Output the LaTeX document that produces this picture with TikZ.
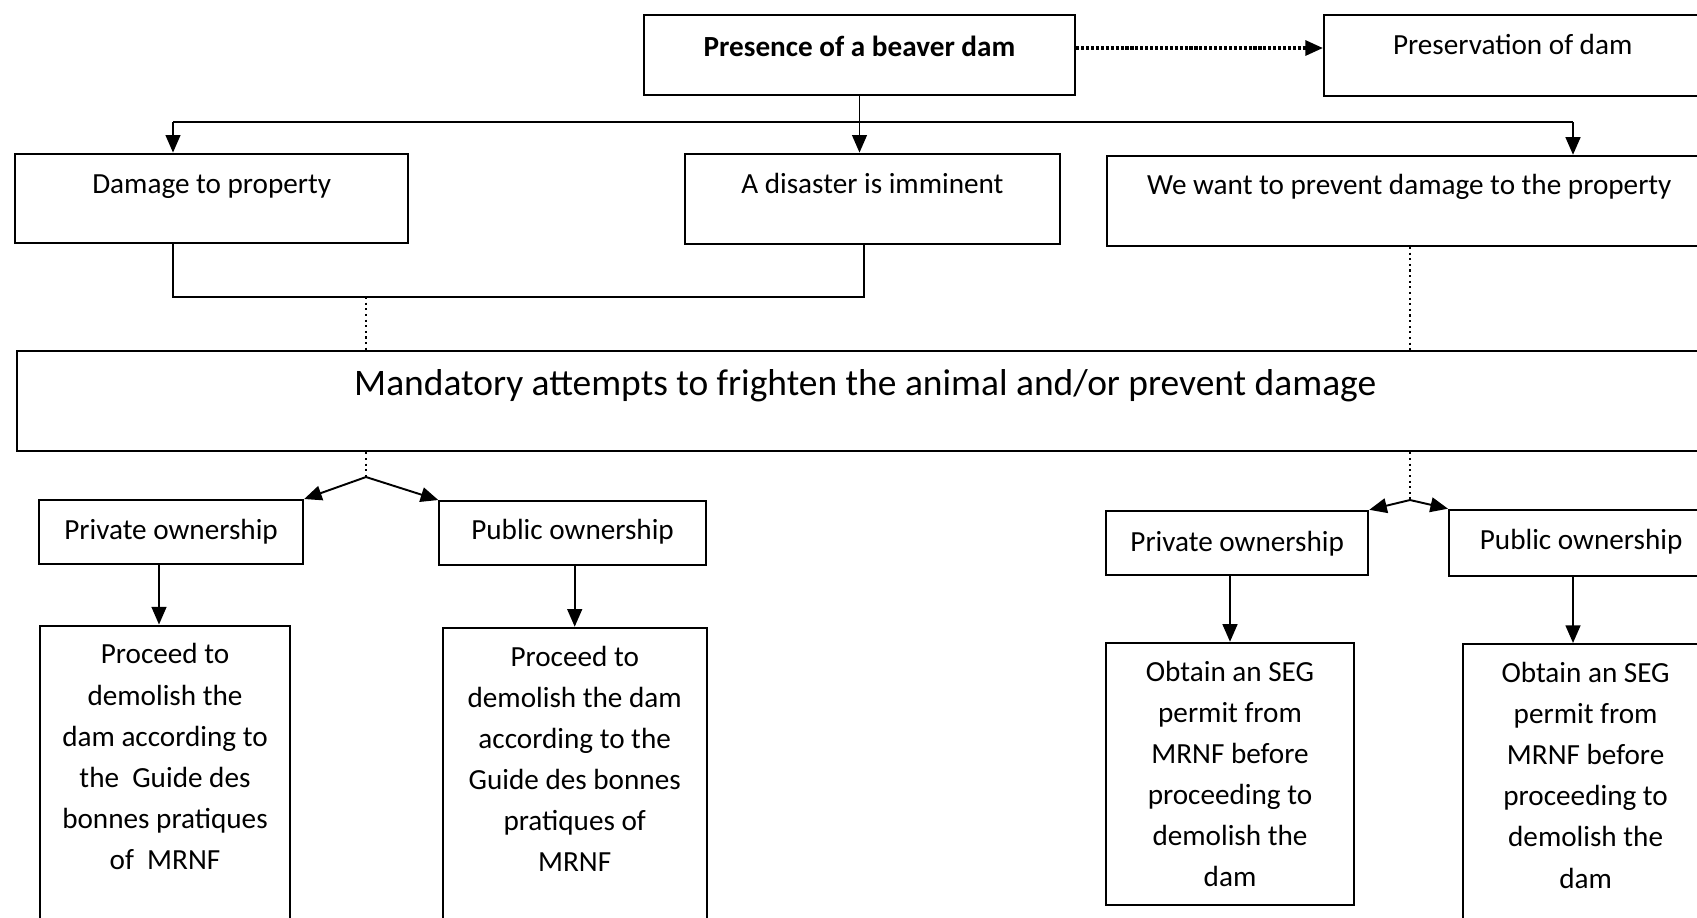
\documentclass[tikz,border=0pt]{standalone}
\usepackage{fontspec}
\setmainfont{Carlito}
\usetikzlibrary{arrows.meta}
\tikzset{box node/.style={draw,line width=0.6pt,inner sep=0pt,anchor=north west,font=\fontsize{8.3}{11.7}\selectfont},
         tall node/.style={box node,anchor=north,align=center,inner ysep=0.18cm},
         arrow/.style={-{Triangle[length=5pt,width=4.2pt]},line width=0.55pt},
         dots/.style={densely dotted,line width=0.6pt},
            }

\begin{document}
\begin{tikzpicture}[x=0.01cm,y=-0.01cm]
    \useasboundingbox (0,0) rectangle (1697,917);
    \node[box node,anchor=north,minimum width=4.31cm,text height=0.41cm,text depth=0.39cm,font=\bfseries\fontsize{8.3}{11.7}\selectfont] (1) at (859.5,14) {Presence of a beaver dam};
    \node[box node,minimum width=3.77cm,text height=0.39cm,text depth=0.42cm] (2) at (1323,14) {Preservation of dam};
    \node[box node,minimum width=3.93cm,text height=0.40cm,text depth=0.49cm] (3) at (14,152.6) {Damage to property};
    \node[box node,minimum width=3.745cm,text height=0.40cm,text depth=0.50cm] (4) at (684,152.6) {A disaster is imminent};
    \node[box node,minimum width=6.04cm,text height=0.39cm,text depth=0.51cm] (5) at (1106,154.8) {We want to prevent damage to the property};
    \node[box node,minimum width=16.95cm,text height=0.45cm,text depth=0.556cm,font=\fontsize{10.65}{12}\selectfont] (6) at (16.2,349.6) {Mandatory attempts to frighten the animal and/or prevent damage};
    \node[box node,minimum width=2.64cm,text height=0.39cm,text depth=0.25cm] (7) at (37.9,499) {Private ownership};
    \node[box node,minimum width=2.663cm,text height=0.38cm,text depth=0.26cm] (8) at (438.3,500) {Public ownership};
    \node[box node,minimum width=2.62cm,text height=0.41cm,text depth=0.23cm] (9) at (1105,509.8) {Private ownership};
    \node[box node,minimum width=2.64cm,text height=0.40cm,text depth=0.26cm] (10) at (1448,508.7) {Public ownership};
    \node[tall node,minimum width=2.5cm] (11) at (165,624.5) {Proceed to\\demolish the\\dam according to\\the~ Guide des\\bonnes pratiques\\of~ MRNF\\~\\~};
    \node[tall node,minimum width=2.64cm] (12) at (574.7,626.7) {Proceed to\\demolish the dam\\according to the\\Guide des bonnes\\pratiques of\\MRNF\\~\\~};
    \node[tall node,minimum width=2.48cm] (13) at (1230,641.8) {Obtain an SEG\\permit from\\MRNF before\\proceeding to\\demolish the\\dam};
    \node[tall node,minimum width=2.45cm] (14) at (1585.6,643) {Obtain an SEG\\permit from\\MRNF before\\proceeding to\\demolish the\\dam\\~};

    \coordinate (t) at (0,48);
    \coordinate (bl) at (173,122);
    \coordinate (br) at (1573,122);
    \coordinate (jl) at (173,297);
    \coordinate (jr) at (864,297);
    \coordinate (jm) at (366,297);
    \coordinate (sl) at (366,477);
    \coordinate (sr) at (1410,500);
    \coordinate (dl) at (159,600);

    \draw[line width=1pt,dash pattern=on 0.9pt off 0.5pt,-{Triangle[length=5pt,width=4.2pt]}] (1.east |- t) -- (2.west |- t);
    \draw[arrow] (1.south) -- (1.south |- 4.north);
    \draw[line width=0.55pt] (bl) -- (br);
    \path[draw]
    (bl) edge[arrow] (bl |- 3.north)
    (br) edge[arrow] (br |- 5.north);
    \draw[line width=0.55pt] (jl |- 3.south) -- (jl) -- (jr) -- (jr |- 4.south);
    \draw[dots] (jm) -- (jm |- 6.north);
    \draw[dots] (sr |- 5.south) -- (sr |- 6.north);
    \draw[dots] (sl |- 6.south) -- (sl);
    \draw[dots] (sr |- 6.south) -- (sr);
    \path[draw]
    (sl) edge[arrow] (7.north east)
    (sl) edge[arrow] (8.north west)
    (sr) edge[arrow] (9.north east)
    (sr) edge[arrow] (10.north west)
    (dl |- 7.south) edge[arrow] (dl |- 11.north)
    (8.south -| 12.north) edge[arrow] (12.north)
    (9.south -| 13.north) edge[arrow] (13.north)
    (br |- 10.south) edge[arrow] (br |- 14.north);
\end{tikzpicture}
\end{document}
